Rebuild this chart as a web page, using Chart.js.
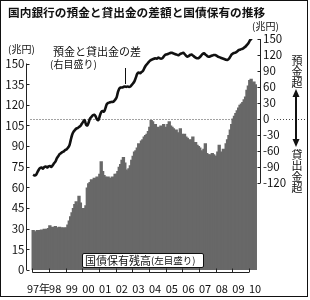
<!DOCTYPE html>
<html><head><meta charset="utf-8">
<script src="https://cdn.jsdelivr.net/npm/chart.js@4"></script>
<style>
html,body{margin:0;padding:0;background:#fff;}
#wrap{position:relative;width:310px;height:300px;overflow:hidden;background:#fff;font-family:"Noto Sans CJK JP",sans-serif;color:#111;}
#c{position:absolute;left:0;top:0;}
.t{position:absolute;white-space:nowrap;line-height:1;}
#frame{position:absolute;left:0;top:0;width:308px;height:297px;border:1px solid #111;box-sizing:border-box;pointer-events:none;}
#jgbBox{position:absolute;left:82px;top:253px;width:122px;height:15px;border:1px solid #111;background:#fff;box-sizing:border-box;border-radius:2px;display:flex;align-items:center;padding-left:2px;white-space:nowrap;overflow:hidden;}
</style></head>
<body><div id="wrap">
<canvas id="c" width="310" height="300"></canvas>
<div id="frame"></div>
<div class="t" style="left:8px;top:6px;font-size:11.7px;font-weight:bold;">国内銀行の預金と貸出金の差額と国債保有の推移</div>
<div class="t" style="left:8px;top:44px;font-size:10px;">(兆円)</div>
<div class="t" style="left:252px;top:21px;font-size:10px;">(兆円)</div>
<div class="t" style="left:53px;top:46px;font-size:11px;">預金と貸出金の差</div>
<div class="t" style="left:50px;top:59px;font-size:10px;">(右目盛り)</div>
<div style="position:absolute;left:125px;top:68px;width:1px;height:16px;background:#111;"></div>
<div class="t" style="left:291px;top:55px;font-size:11px;writing-mode:vertical-rl;">預金超</div>
<div class="t" style="left:291px;top:149px;font-size:11px;writing-mode:vertical-rl;">貸出金超</div>
<svg style="position:absolute;left:0;top:0" width="310" height="300">
  <line x1="296" y1="95" x2="296" y2="141" stroke="#111" stroke-width="2"/>
  <polygon points="296,89 292.5,97 299.5,97" fill="#111"/>
  <polygon points="296,147 292.5,139 299.5,139" fill="#111"/>
</svg>
<div id="jgbBox"><span style="font-size:11px;line-height:11px;">国債保有残高</span><span style="font-size:9.5px;line-height:11px;">(左目盛り)</span></div>
</div>
<script>
// x-axis year ticks and labels
const yearTicks = [1997,1998,1999,2000,2001,2002,2003,2004,2005,2006,2007,2008,2009,2010];
const yearLabels = ['97年','98','99','00','01','02','03','04','05','06','07','08','09','10'];
const startYear = 1997;
// 国債保有残高 (兆円, left axis), monthly from Jan 1997
const jgbHoldings = [
  29,28,28,29,28.5,29,29.5,29,30,29.5,30,30.5,
  32.5,31,31.5,31,32,31,30.5,31.5,31,30.5,31,30,
  31,33,36,39,42,45,48,50,47,54,49,45,
  44,45,47,60,63,64,66,65,67,66,68,67,
  70,79,72,69,68,67,68,67,66,68,67,70,
  70,72,75,77,80,82,78,73,72,74,76,80,
  83,86,87,89,92,91,94,95,97,98,99,101,
  104,109,108,104,106,102,104,102,105,104,106,103,
  104,106,108,105,104,103,101,102,100,99,103,99,
  98,99,97,96,95,94,95,97,93,93,91,90,
  89,87,86,88,92,85,84,84,83,85,84,83,
  83,86,91,86,85,88,87,92,95,98,102,106,
  110,112,114,116,118,120,121,122,124,126,131,134,
  138,139,136,137,135
];
// 預金と貸出金の差 (兆円, right axis), monthly from Jan 1997
const depositLoanGap = [
  -104,-106,-105,-100,-95,-92,-91,-93,-90,-89,-91,-89,
  -88,-90,-87,-83,-80,-74,-70,-66,-64,-62,-61,-58,
  -57,-54,-50,-40,-30,-24,-21,-18,-17,-15,-13,-9,
  -5,-2,-10,-12,-6,1,4,7,8,5,-1,-2,
  6,13,15,14,20,28,30,31,32,32,33,36,
  40,50,57,59,59,60,61,60,61,60,61,64,
  67,71,78,85,87,86,88,90,95,100,103,106,
  109,111,112,113,114,113,115,114,113,114,117,120,
  121,122,123,124,124,123,122,121,120,120,122,123,
  124,122,119,117,118,120,121,119,117,115,114,114,
  116,119,122,123,121,119,117,117,118,119,120,120,
  119,117,116,115,114,113,112,111,111,113,117,121,
  123,124,125,127,129,130,131,132,134,136,139,142,
  147,150,153
];
const leftTicks = [0,15,30,45,60,75,90,105,120,135,150];
const rightTicks = [-120,-90,-60,-30,0,30,60,90,120,150];

const monthX = i => startYear + Math.floor(i/12) + ((i%12)+0.5)/12;

const canvas = document.getElementById('c');
const ctx = canvas.getContext('2d');

const tickFont = {family:"'Liberation Sans Narrow','Noto Sans CJK JP',sans-serif", size:11.5};
const xTickFont = {family:"'Liberation Sans Narrow','Noto Sans CJK JP',sans-serif", size:11};
const axisColor = '#222';

const axisDeco = {
  id:'axisDeco',
  beforeDatasetsDraw(chart){
    const {ctx, chartArea:a, scales} = chart;
    const y0 = Math.round(scales.yR.getPixelForValue(0)) + 0.5;
    ctx.save();
    ctx.strokeStyle = '#444'; ctx.lineWidth = 1; ctx.setLineDash([1,2]);
    ctx.beginPath(); ctx.moveTo(a.left + 4, y0); ctx.lineTo(a.right, y0); ctx.stroke();
    ctx.restore();
  },
  afterDraw(chart){
    const {ctx, chartArea:a, scales} = chart;
    ctx.save();
    ctx.strokeStyle = axisColor; ctx.lineWidth = 1;
    const xl = Math.floor(a.left) + 0.5;
    const yl = scales.yL;
    ctx.beginPath();
    ctx.moveTo(xl, yl.getPixelForValue(leftTicks[0])); ctx.lineTo(xl, yl.getPixelForValue(leftTicks[leftTicks.length-1]));
    leftTicks.forEach(v => { const y = Math.round(yl.getPixelForValue(v)) + 0.5; ctx.moveTo(xl, y); ctx.lineTo(xl + 3, y); });
    ctx.stroke();
    const xr = Math.floor(a.right) - 0.5;
    const yr = scales.yR;
    ctx.beginPath();
    ctx.moveTo(xr, yr.getPixelForValue(rightTicks[0])); ctx.lineTo(xr, yr.getPixelForValue(rightTicks[rightTicks.length-1]));
    rightTicks.forEach(v => { const y = Math.round(yr.getPixelForValue(v)) + 0.5; ctx.moveTo(xr - 3, y); ctx.lineTo(xr, y); });
    ctx.stroke();
    const xs = scales.x;
    const yb = Math.floor(a.bottom) - 0.5;
    ctx.beginPath();
    ctx.moveTo(xs.getPixelForValue(yearTicks[0]), yb); ctx.lineTo(xs.getPixelForValue(yearTicks[yearTicks.length-1]), yb);
    yearTicks.forEach(v => { const x = Math.round(xs.getPixelForValue(v)) + 0.5; ctx.moveTo(x, yb); ctx.lineTo(x, yb - 4); });
    ctx.stroke();
    const y0 = Math.round(yr.getPixelForValue(0)) + 0.5;
    ctx.strokeStyle = '#444'; ctx.setLineDash([1,2]);
    ctx.beginPath(); ctx.moveTo(a.right + 13, y0); ctx.lineTo(307, y0); ctx.stroke();
    ctx.restore();
  }
};

new Chart(ctx, {
  type:'bar',
  data:{datasets:[
    {type:'line', label:'預金と貸出金の差', data: depositLoanGap.map((v,i)=>({x:monthX(i), y:v})),
     yAxisID:'yR', xAxisID:'x', borderColor:'#111', borderWidth:2.6, pointRadius:0, tension:0.35, order:0},
    {type:'bar', label:'国債保有残高', data: jgbHoldings.map((v,i)=>({x:monthX(i), y:v})),
     yAxisID:'yL', xAxisID:'x', backgroundColor:'#686868', borderWidth:0, inflateAmount:0,
     barPercentage:2.4, categoryPercentage:1, order:1}
  ]},
  options:{
    responsive:false, animation:false, devicePixelRatio:1,
    layout:{padding:{top:39,left:0,right:0,bottom:0}},
    plugins:{legend:{display:false}, tooltip:{enabled:false}, title:{display:false}},
    scales:{
      x:{type:'linear', offset:false, min:1996.64, max:2010.716,
         grid:{display:false, drawTicks:false}, border:{display:false},
         afterBuildTicks: s => { s.ticks = yearTicks.map(v=>({value:v})); },
         afterFit: s => { s.height = 27; },
         ticks:{autoSkip:false, maxRotation:0, minRotation:0, labelOffset:6, padding:9, font:xTickFont, color:'#111',
                callback:(v,i)=>yearLabels[i]}},
      yL:{type:'linear', position:'left', min:-2.18, max:167.8,
         grid:{display:false, drawTicks:false}, border:{display:false},
         afterBuildTicks: s => { s.ticks = leftTicks.map(v=>({value:v})); },
         afterFit: s => { s.width = 26.5; },
         ticks:{padding:2, font:tickFont, color:'#111'}},
      yR:{type:'linear', position:'right', min:-288.75, max:150,
         grid:{display:false, drawTicks:false}, border:{display:false},
         afterBuildTicks: s => { s.ticks = rightTicks.map(v=>({value:v})); },
         afterFit: s => { s.width = 49; },
         ticks:{padding:2, font:tickFont, color:'#111'}}
    }
  },
  plugins:[axisDeco]
});
</script>
</body></html>
